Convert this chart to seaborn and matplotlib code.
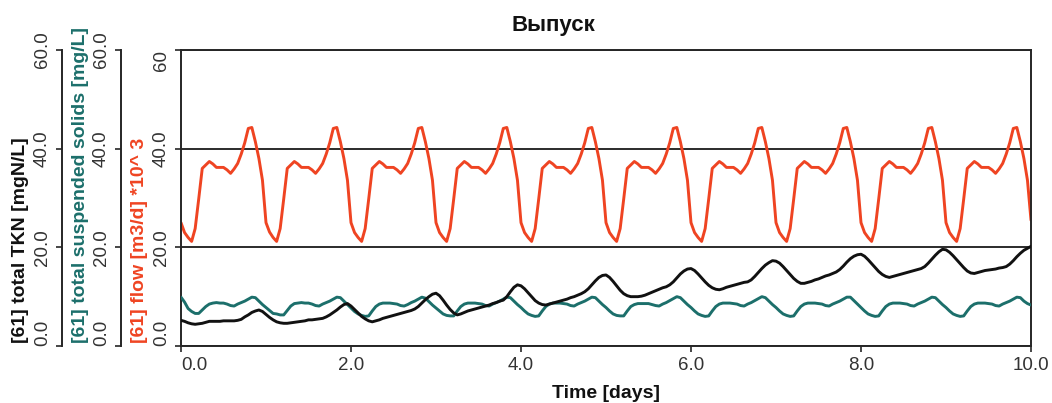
import numpy as np
import matplotlib
matplotlib.use("Agg")
import matplotlib.pyplot as plt
import seaborn as sns

# ---------------- data (hourly samples) ----------------
time_days = np.arange(241) / 24.0

flow = [
    25.0, 23.0, 22.0, 21.2, 23.8, 29.8, 36.0, 36.7, 37.4, 36.9, 36.2, 36.2, 36.2, 35.7, 35.0, 35.9, 37.0, 38.9, 41.2, 44.1, 44.3, 41.4, 38.0, 33.6,
    25.0, 23.1, 22.0, 21.2, 23.8, 29.8, 36.0, 36.7, 37.4, 36.9, 36.2, 36.2, 36.2, 35.7, 35.0, 35.9, 37.0, 38.9, 41.2, 44.1, 44.3, 41.4, 38.0, 33.6,
    25.0, 23.0, 22.0, 21.2, 23.8, 29.8, 36.0, 36.7, 37.4, 36.9, 36.2, 36.2, 36.2, 35.7, 35.0, 35.9, 37.0, 38.9, 41.2, 44.1, 44.3, 41.4, 38.0, 33.6,
    25.0, 23.0, 22.0, 21.2, 23.8, 29.8, 36.0, 36.7, 37.4, 36.9, 36.2, 36.2, 36.2, 35.7, 35.0, 35.9, 37.0, 38.9, 41.2, 44.1, 44.3, 41.4, 38.0, 33.6,
    25.0, 23.0, 22.0, 21.2, 23.8, 29.8, 36.0, 36.7, 37.4, 36.9, 36.2, 36.2, 36.2, 35.7, 35.0, 35.9, 37.0, 38.9, 41.2, 44.1, 44.3, 41.4, 38.0, 33.6,
    25.0, 23.0, 22.0, 21.2, 23.8, 29.8, 36.0, 36.7, 37.4, 36.9, 36.2, 36.2, 36.2, 35.7, 35.0, 35.9, 37.0, 38.9, 41.2, 44.1, 44.3, 41.4, 38.0, 33.6,
    25.0, 23.0, 22.0, 21.2, 23.8, 29.8, 36.0, 36.7, 37.4, 36.9, 36.2, 36.2, 36.2, 35.7, 35.0, 35.9, 37.0, 38.9, 41.2, 44.1, 44.3, 41.4, 38.0, 33.6,
    25.0, 23.0, 22.0, 21.2, 23.8, 29.8, 36.0, 36.7, 37.4, 36.9, 36.2, 36.2, 36.2, 35.7, 35.0, 35.9, 37.0, 38.9, 41.2, 44.1, 44.3, 41.4, 38.0, 33.6,
    25.0, 23.0, 22.0, 21.2, 23.8, 29.8, 36.0, 36.7, 37.4, 36.9, 36.2, 36.2, 36.2, 35.7, 35.0, 35.9, 37.0, 38.9, 41.2, 44.1, 44.3, 41.4, 38.0, 33.6,
    25.0, 23.0, 22.0, 21.2, 23.8, 29.8, 36.0, 36.7, 37.4, 36.9, 36.2, 36.2, 36.2, 35.7, 35.0, 35.9, 37.0, 38.9, 41.2, 44.1, 44.3, 41.4, 38.0, 33.6,
    25.5,
]

tss = [
    9.9, 8.9, 7.6, 7.0, 6.6, 6.6, 7.3, 8.0, 8.5, 8.7, 8.8, 8.7, 8.7, 8.5, 8.2, 8.1, 8.5, 8.8, 9.1, 9.5, 9.9, 9.8, 9.1, 8.4,
    7.8, 7.2, 6.6, 6.5, 6.3, 6.3, 7.2, 8.1, 8.6, 8.7, 8.8, 8.7, 8.7, 8.5, 8.2, 8.1, 8.5, 8.8, 9.1, 9.5, 9.9, 9.8, 9.1, 8.4,
    7.7, 7.0, 6.5, 6.2, 6.0, 6.1, 7.1, 8.0, 8.5, 8.7, 8.7, 8.7, 8.6, 8.5, 8.2, 8.1, 8.4, 8.8, 9.1, 9.5, 9.9, 9.7, 9.0, 8.3,
    7.7, 7.1, 6.5, 6.2, 6.1, 6.1, 7.1, 8.0, 8.5, 8.7, 8.7, 8.7, 8.6, 8.5, 8.2, 8.1, 8.5, 8.8, 9.1, 9.5, 9.9, 9.8, 9.1, 8.4,
    7.8, 7.1, 6.5, 6.2, 6.0, 6.1, 7.1, 8.0, 8.5, 8.7, 8.7, 8.7, 8.6, 8.5, 8.2, 8.1, 8.5, 8.8, 9.1, 9.5, 9.9, 9.8, 9.1, 8.4,
    7.8, 7.1, 6.5, 6.2, 6.1, 6.1, 7.1, 8.0, 8.4, 8.6, 8.6, 8.6, 8.6, 8.4, 8.2, 8.1, 8.5, 8.8, 9.2, 9.6, 10.0, 9.8, 9.1, 8.4,
    7.8, 7.1, 6.5, 6.2, 6.0, 6.1, 7.1, 8.0, 8.5, 8.7, 8.7, 8.7, 8.6, 8.5, 8.2, 8.1, 8.5, 8.8, 9.2, 9.6, 10.0, 9.8, 9.1, 8.4,
    7.8, 7.1, 6.5, 6.2, 6.0, 6.1, 7.1, 8.0, 8.5, 8.7, 8.7, 8.7, 8.6, 8.5, 8.2, 8.1, 8.5, 8.8, 9.1, 9.5, 9.9, 9.9, 9.2, 8.5,
    7.8, 7.1, 6.5, 6.2, 6.0, 6.1, 7.1, 8.0, 8.5, 8.7, 8.7, 8.7, 8.6, 8.5, 8.2, 8.1, 8.5, 8.8, 9.1, 9.5, 9.9, 9.8, 9.1, 8.4,
    7.8, 7.1, 6.5, 6.2, 6.0, 6.1, 7.1, 8.0, 8.5, 8.7, 8.7, 8.7, 8.6, 8.5, 8.2, 8.1, 8.5, 8.8, 9.1, 9.5, 9.9, 9.8, 9.1, 8.6,
    8.3,
]

tkn = [
    5.2, 5.0, 4.7, 4.5, 4.4, 4.5, 4.6, 4.8, 5.0, 5.0, 5.0, 5.0, 5.1, 5.1, 5.1, 5.1, 5.2, 5.4, 5.9, 6.3, 6.8, 7.1, 7.3, 7.0,
    6.4, 5.8, 5.3, 4.9, 4.7, 4.6, 4.6, 4.7, 4.8, 4.9, 5.0, 5.1, 5.3, 5.3, 5.4, 5.5, 5.6, 5.9, 6.3, 6.8, 7.3, 7.9, 8.4, 8.6,
    8.1, 7.4, 6.7, 6.0, 5.5, 5.1, 4.9, 5.1, 5.3, 5.6, 5.8, 6.0, 6.2, 6.4, 6.6, 6.8, 7.0, 7.2, 7.5, 8.0, 8.7, 9.4, 10.0, 10.5,
    10.7, 10.2, 9.3, 8.3, 7.4, 6.7, 6.3, 6.5, 6.8, 7.1, 7.3, 7.5, 7.7, 7.9, 8.1, 8.3, 8.6, 8.8, 9.1, 9.3, 10.0, 11.0, 11.9, 12.4,
    12.2, 11.6, 10.8, 10.0, 9.2, 8.7, 8.4, 8.3, 8.5, 8.7, 8.9, 9.1, 9.3, 9.5, 9.8, 10.0, 10.3, 10.6, 11.0, 11.6, 12.4, 13.2, 13.9, 14.3,
    14.4, 13.9, 13.1, 12.2, 11.3, 10.6, 10.2, 10.0, 10.0, 10.0, 10.1, 10.3, 10.6, 10.9, 11.2, 11.5, 11.8, 12.0, 12.4, 13.0, 13.8, 14.6, 15.2, 15.6,
    15.7, 15.3, 14.6, 13.8, 13.0, 12.3, 11.8, 11.5, 11.4, 11.6, 11.9, 12.1, 12.3, 12.5, 12.7, 12.9, 13.0, 13.4, 14.1, 14.9, 15.7, 16.4, 16.9, 17.3,
    17.2, 16.8, 16.1, 15.3, 14.5, 13.7, 13.1, 12.7, 12.7, 12.9, 13.1, 13.4, 13.6, 13.9, 14.2, 14.4, 14.7, 15.0, 15.5, 16.2, 17.0, 17.7, 18.2, 18.5,
    18.6, 18.2, 17.5, 16.7, 15.9, 15.1, 14.5, 14.1, 13.9, 14.1, 14.3, 14.5, 14.7, 14.9, 15.1, 15.3, 15.5, 15.7, 16.1, 16.8, 17.6, 18.4, 19.1, 19.6,
    19.5, 19.0, 18.3, 17.5, 16.7, 15.9, 15.2, 14.8, 14.7, 14.9, 15.1, 15.3, 15.4, 15.5, 15.6, 15.8, 15.9, 16.1, 16.6, 17.3, 18.1, 18.8, 19.4, 19.8,
    20.2,
]

x_ticks = [0, 2, 4, 6, 8, 10]
x_tick_labels = ["0.0", "2.0", "4.0", "6.0", "8.0", "10.0"]
y_ticks = [0, 20, 40, 60]
flow_tick_labels = ["0.0", "20.0", "40.0", "60"]
aux_tick_labels = ["0.0", "20.0", "40.0", "60.0"]

title_text = "Выпуск"
x_label = "Time [days]"
flow_label = "[61] flow [m3/d] *10^ 3"
tss_label = "[61] total suspended solids [mg/L]"
tkn_label = "[61] total TKN [mgN/L]"

flow_color = "#EF4422"
tss_color = "#1C6F6B"
tkn_color = "#111111"
axis_color = "#262626"
text_color = "#333333"

# ---------------- style ----------------
sns.set_theme(style="ticks")
plt.rcParams["font.family"] = ["Liberation Sans", "DejaVu Sans"]
plt.rcParams["axes.linewidth"] = 1.4

W, H = 1052, 403
DPI = 100
PX2PT = 72.0 / DPI
fig = plt.figure(figsize=(W / DPI, H / DPI), dpi=DPI)
ax = fig.add_axes([181 / W, 57 / H, 850 / W, 296 / H])
ax_tss = ax.twinx()
ax_tkn = ax.twinx()

sns.lineplot(x=time_days, y=flow, ax=ax, color=flow_color, linewidth=2.1)
sns.lineplot(x=time_days, y=tss, ax=ax_tss, color=tss_color, linewidth=2.1)
sns.lineplot(x=time_days, y=tkn, ax=ax_tkn, color=tkn_color, linewidth=2.1)

tick_fs = 13.5
label_fs = 14

# main axis (flow)
ax.set_xlim(0, 10)
ax.set_ylim(0, 60)
for s in ["left", "right", "top", "bottom"]:
    ax.spines[s].set_visible(True)
    ax.spines[s].set_color(axis_color)
ax.set_xticks(x_ticks, x_tick_labels, fontsize=tick_fs, color=text_color)
ax.set_yticks(y_ticks, flow_tick_labels, fontsize=tick_fs, color=text_color,
              rotation=90, va="center")
ax.tick_params(axis="both", direction="out", length=4, width=1.2, color=axis_color, pad=4)
ax.yaxis.grid(True, color="#1a1a1a", linewidth=1.3)
ax.xaxis.grid(False)
ax.set_axisbelow(True)
ylabs = ax.get_yticklabels()
ylabs[0].set_va("bottom")
ylabs[-1].set_va("top")
xlabs = ax.get_xticklabels()
xlabs[0].set_ha("left")

ax.set_xlabel(x_label, fontsize=label_fs, fontweight="bold", color="#111111", labelpad=8)
ax.set_ylabel(flow_label, fontsize=label_fs, fontweight="bold", color=flow_color, loc="bottom")
ax.yaxis.set_label_coords((148 - 181) / 850, 0.01)

# auxiliary axes (offsets given in pixels, converted to points)
for a, off_px, lab, col, lx in [
    (ax_tss, 60, tss_label, tss_color, 89),
    (ax_tkn, 119, tkn_label, tkn_color, 29),
]:
    a.set_ylim(0, 60)
    a.set_xlim(0, 10)
    for s in ["right", "top", "bottom"]:
        a.spines[s].set_visible(False)
    a.spines["left"].set_visible(True)
    a.spines["left"].set_position(("outward", off_px * PX2PT))
    a.spines["left"].set_color(axis_color)
    a.yaxis.set_ticks_position("left")
    a.yaxis.set_label_position("left")
    a.set_yticks(y_ticks, aux_tick_labels, fontsize=tick_fs, color=text_color,
                 rotation=90, va="center")
    a.tick_params(axis="y", direction="out", length=4, width=1.2, color=axis_color, pad=4)
    a.tick_params(axis="x", which="both", bottom=False, top=False,
                  labelbottom=False, labeltop=False)
    a.grid(False)
    a.get_yticklabels()[0].set_va("bottom")
    a.set_xlabel("")
    a.set_ylabel(lab, fontsize=label_fs, fontweight="bold", color=col, loc="bottom")
    a.yaxis.set_label_coords((lx - 181) / 850, 0.01)

fig.text(553 / W, 1 - 25 / H, title_text, ha="center", va="center",
         fontsize=16, fontweight="bold", color="#111111")

fig.savefig("out.png", dpi=DPI)
